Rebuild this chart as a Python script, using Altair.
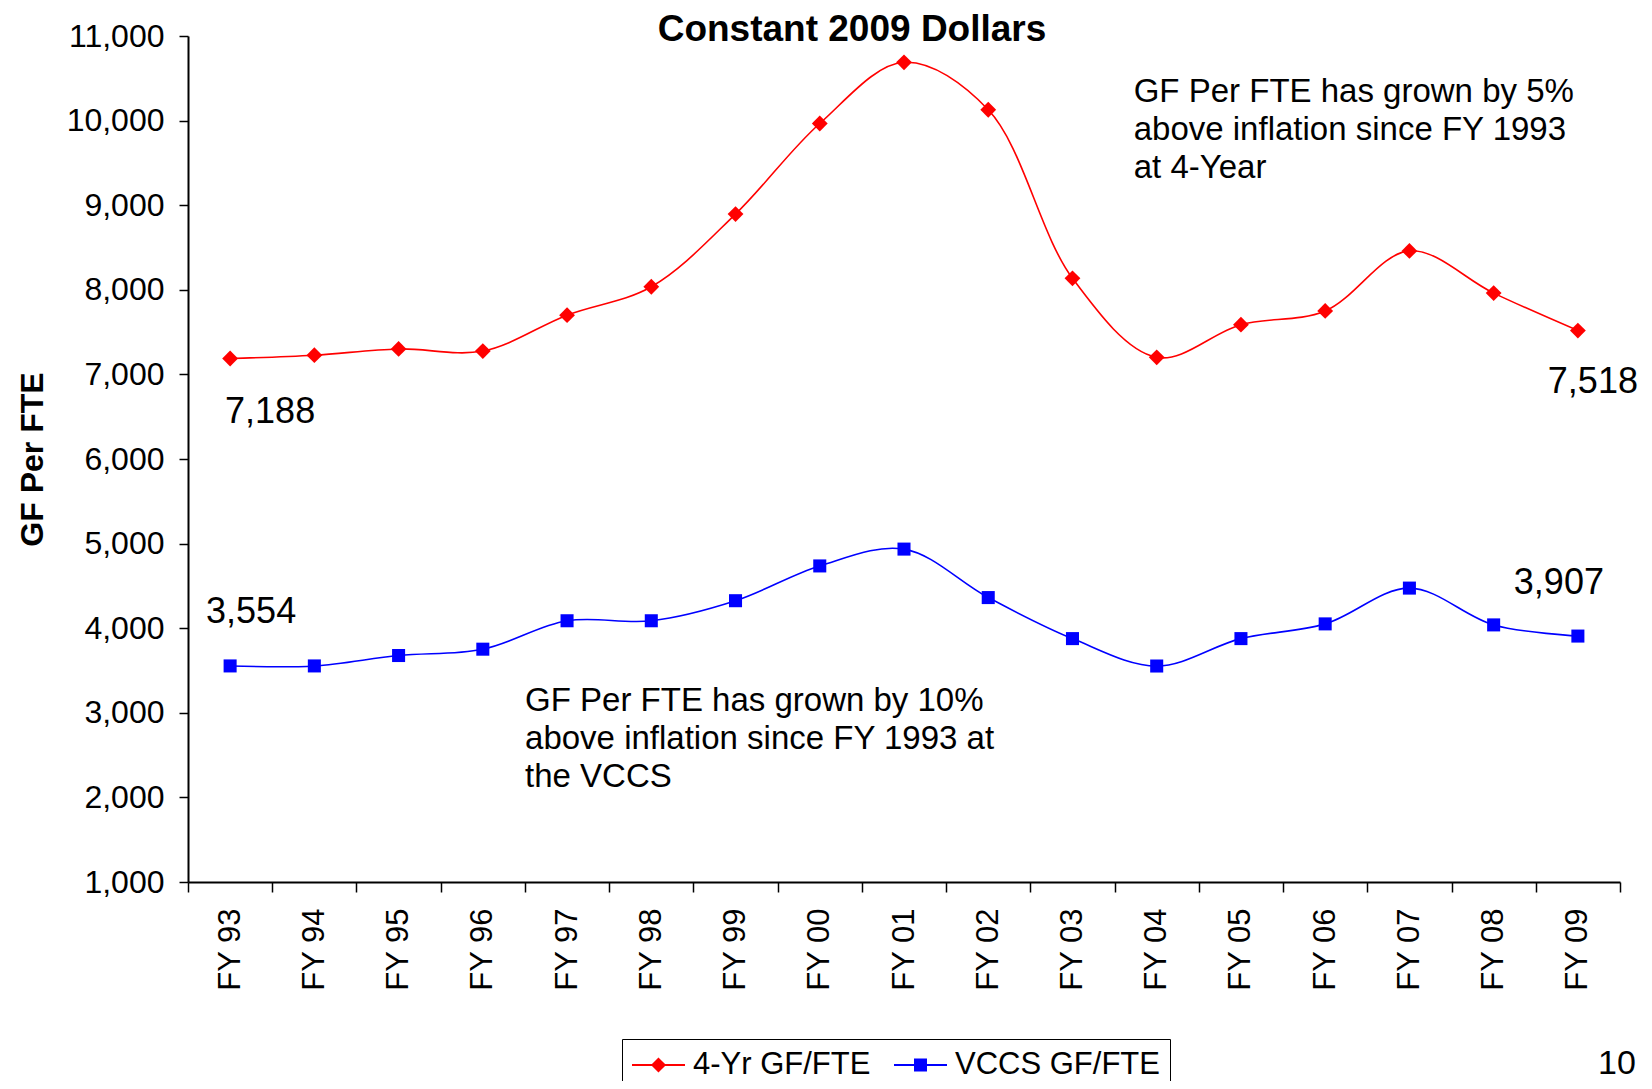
import altair as alt
import pandas as pd

years = ["FY 93", "FY 94", "FY 95", "FY 96", "FY 97", "FY 98", "FY 99", "FY 00", "FY 01",
         "FY 02", "FY 03", "FY 04", "FY 05", "FY 06", "FY 07", "FY 08", "FY 09"]
four_yr = [7188, 7227, 7301, 7276, 7700, 8036, 8895, 9966, 10689, 10128, 8136, 7202, 7588, 7750, 8460, 7961, 7518]
vccs = [3554, 3554, 3677, 3752, 4088, 4088, 4325, 4736, 4935, 4362, 3877, 3553, 3877, 4051, 4474, 4039, 3907]
series_names = ["4-Yr GF/FTE", "VCCS GF/FTE"]
series_colors = ["#ff0000", "#0000ff"]
y_ticks = list(range(1000, 11001, 1000))

FONT = "Liberation Sans"

rows = []
for fy, v in zip(years, four_yr):
    rows.append({"fy": fy, "series": series_names[0], "value": v})
for fy, v in zip(years, vccs):
    rows.append({"fy": fy, "series": series_names[1], "value": v})
df = pd.DataFrame(rows)

x_scale = alt.Scale(type="band", domain=years, paddingInner=0, paddingOuter=0)
y_scale = alt.Scale(domain=[1000, 11000], nice=False, zero=False)

x_enc = alt.X("fy:N", scale=x_scale, sort=years,
              axis=alt.Axis(title=None, labelAngle=-90, labelFontSize=31, labelPadding=16,
                            tickSize=10, tickBand="extent", tickWidth=1.5, domainWidth=2,
                            labelFont=FONT, labelColor="black"))
y_enc = alt.Y("value:Q", scale=y_scale,
              axis=alt.Axis(values=y_ticks, format=",.0f", labelFontSize=32, labelPadding=15,
                            tickSize=9, tickWidth=1.5, domainWidth=2, grid=False,
                            title="GF Per FTE", titleFontSize=32, titleFontWeight="bold",
                            titlePadding=17, labelFont=FONT, titleFont=FONT,
                            labelColor="black", titleColor="black"))

base = alt.Chart(df)

# data-driven domains (sorted: "4-Yr..." then "VCCS...") for the drawn series
lines = base.mark_line(interpolate="catmull-rom", strokeWidth=1.6).encode(
    x=x_enc, y=y_enc,
    stroke=alt.Stroke("series:N", scale=alt.Scale(range=series_colors), legend=None),
)

pts_red = base.transform_filter(alt.datum.series == series_names[0]).mark_point(
    shape="diamond", filled=True, size=250, opacity=1, color=series_colors[0]).encode(
    x=x_enc, y=y_enc)

pts_blue = base.transform_filter(alt.datum.series == series_names[1]).mark_point(
    shape="square", filled=True, size=170, opacity=1, color=series_colors[1]).encode(
    x=x_enc, y=y_enc)

# legend symbols: a line with the marker in its middle (units of 16 px, symbol box 32 px)
legend_shapes = [
    "M-1,-0.0625H2.3125V0.0625H-1Z M0.656,-0.47L1.126,0L0.656,0.47L0.186,0Z",
    "M-1,-0.0625H2.3125V0.0625H-1Z M0.25,-0.406H1.062V0.406H0.25Z",
]
# legend-only layer: its marks sit outside the clipped plot area, only the legend shows
legend_layer = base.transform_calculate(hidden="-100000").mark_point(
    filled=True, opacity=1, clip=True).encode(
    x=x_enc, y=alt.Y("hidden:Q", scale=y_scale),
    color=alt.Color("series:N", scale=alt.Scale(domain=series_names, range=series_colors),
                    legend=alt.Legend(title=None, orient="none", legendX=434, legendY=1003,
                                      direction="horizontal", strokeColor="black", padding=10,
                                      labelFontSize=31, labelFont=FONT, labelColor="black",
                                      labelLimit=0, symbolSize=1024, labelOffset=29,
                                      columnPadding=23, symbolStrokeWidth=0)),
    shape=alt.Shape("series:N", scale=alt.Scale(domain=series_names, range=legend_shapes)),
)


def text_layer(fy, val, txt, size, dx=0, dy=0, align="center", baseline="middle", bold=False):
    d = pd.DataFrame({"fy": [fy], "value": [val], "txt": [txt]})
    return alt.Chart(d).mark_text(
        fontSize=size, font=FONT, dx=dx, dy=dy, align=align, baseline=baseline,
        lineBreak="\n", lineHeight=38, color="black",
        fontWeight="bold" if bold else "normal",
    ).encode(x=alt.X("fy:N", scale=x_scale, sort=years), y=alt.Y("value:Q", scale=y_scale),
             text="txt:N")


labels = [
    text_layer(years[0], four_yr[0], "7,188", 36, dx=40, dy=54),
    text_layer(years[0], vccs[0], "3,554", 36, dx=21, dy=-54),
    text_layer(years[-1], four_yr[-1], "7,518", 36, dx=15, dy=51),
    text_layer(years[-1], vccs[-1], "3,907", 36, dx=-19, dy=-53),
    text_layer("FY 04", 10225, "GF Per FTE has grown by 5%\nabove inflation since FY 1993\nat 4-Year",
               33, dx=-23, align="left", baseline="alphabetic"),
    text_layer("FY 97", 3027, "GF Per FTE has grown by 10%\nabove inflation since FY 1993 at\nthe VCCS",
               33, dx=-42, align="left", baseline="alphabetic"),
    text_layer("FY 01", 10940, "Constant 2009 Dollars", 37, dx=-52, baseline="alphabetic", bold=True),
    text_layer("FY 09", -1270, "10", 34, dx=39, baseline="alphabetic"),
]

chart = alt.layer(lines, pts_red, pts_blue, legend_layer, *labels).properties(
    width=1432, height=846,
    padding={"left": 180, "top": 28, "right": 20, "bottom": 199},
    autosize="none",
).configure_view(stroke=None).configure_axis(domainColor="black", tickColor="black")

chart.save("out.html", embed_options={"renderer": "svg", "actions": False})
